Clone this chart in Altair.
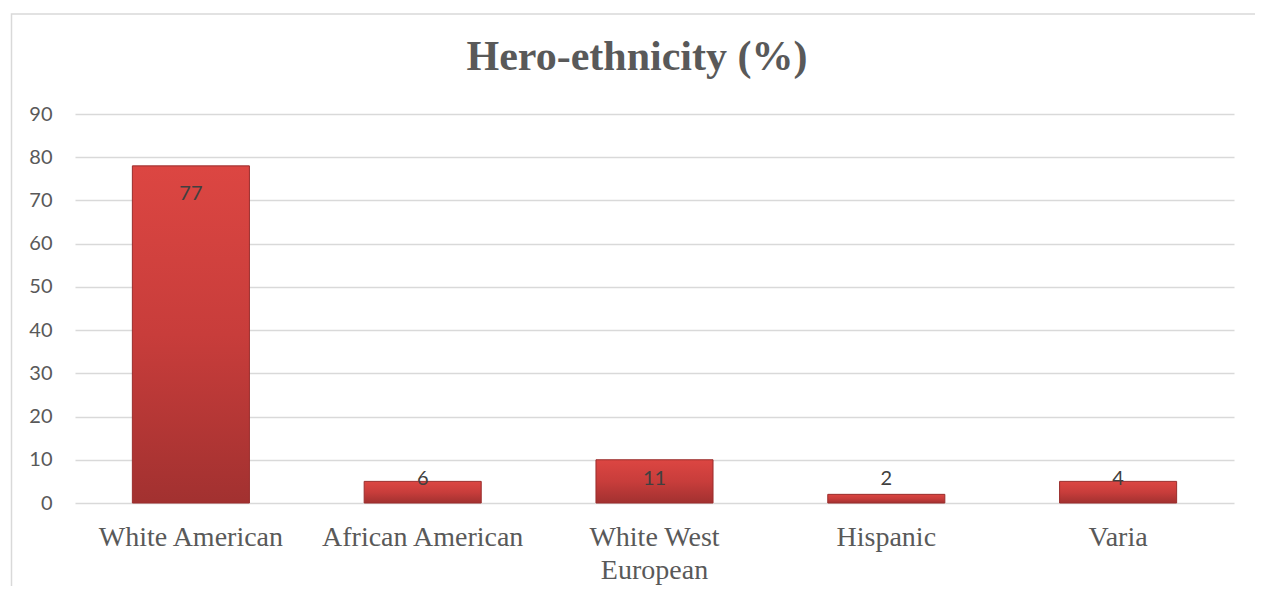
import altair as alt
import pandas as pd

categories = ["White American", "African American", "White West European", "Hispanic", "Varia"]
bar_values = [78, 5, 10, 2, 5]
data_labels = ["77", "6", "11", "2", "4"]

df = pd.DataFrame({"category": categories, "value": bar_values, "label": data_labels})

GRID = "#D9D9D9"
TEXT = "#595959"

base = alt.Chart(df)

x_enc = alt.X(
    "category:N",
    sort=categories,
    scale=alt.Scale(paddingInner=0.495, paddingOuter=0.2475),
    axis=alt.Axis(
        title=None,
        domain=False,
        ticks=False,
        labelAngle=0,
        labelFont="Liberation Serif",
        labelFontSize=28,
        labelColor=TEXT,
        labelPadding=20,
        labelLineHeight=33,
        labelLimit=400,
        labelExpr="datum.label == 'White West European' ? ['White West', 'European'] : datum.label",
    ),
)
y_enc = alt.Y(
    "value:Q",
    scale=alt.Scale(domain=[0, 90], nice=False),
    axis=alt.Axis(
        title=None,
        values=list(range(0, 91, 10)),
        domain=False,
        ticks=False,
        grid=True,
        gridColor=GRID,
        gridWidth=1.3,
        labelFont="Lato",
        labelFontSize=20,
        labelColor=TEXT,
        labelPadding=23,
    ),
)

border = base.mark_rect(fill=None, stroke=GRID, strokeWidth=1.5).encode(
    x=alt.value(-63.5), x2=alt.value(1300), y=alt.value(-100), y2=alt.value(600)
).transform_filter("datum.category == 'Varia'")

bars = base.mark_bar(
    color=alt.Gradient(
        gradient="linear",
        stops=[
            alt.GradientStop(color="#DC4642", offset=0),
            alt.GradientStop(color="#C83D3B", offset=0.5),
            alt.GradientStop(color="#A23130", offset=1),
        ],
        x1=0, x2=0, y1=0, y2=1,
    ),
    stroke="#9A2D2C",
    strokeWidth=1,
).encode(x=x_enc, y=y_enc)

labels_tall = base.transform_filter("datum.value > 20").mark_text(
    font="Lato", fontSize=20, color="#404040", baseline="middle", dy=28
).encode(x=alt.X("category:N", sort=categories), y="value:Q", text="label:N")

labels_short = base.transform_filter("datum.value <= 20").mark_text(
    font="Lato", fontSize=20, color="#404040", baseline="middle", dy=-24
).encode(x=alt.X("category:N", sort=categories), y=alt.datum(0), text="label:N")

chart = alt.layer(border, bars, labels_tall, labels_short).properties(
    width=1159,
    height=389,
    background="white",
    autosize=alt.AutoSizeParams(type="none"),
    padding={"left": 67, "top": 106, "right": 21, "bottom": 83},
    title=alt.TitleParams(
        "Hero-ethnicity (%)",
        font="Liberation Serif",
        fontSize=42,
        fontWeight="bold",
        color=TEXT,
        anchor="middle",
        frame="group",
        dx=-17.5,
        offset=-98.5,
        baseline="alphabetic",
    ),
).configure_view(strokeWidth=0, stroke="transparent")

chart.save("out.html", embed_options={"renderer": "svg", "actions": False})
